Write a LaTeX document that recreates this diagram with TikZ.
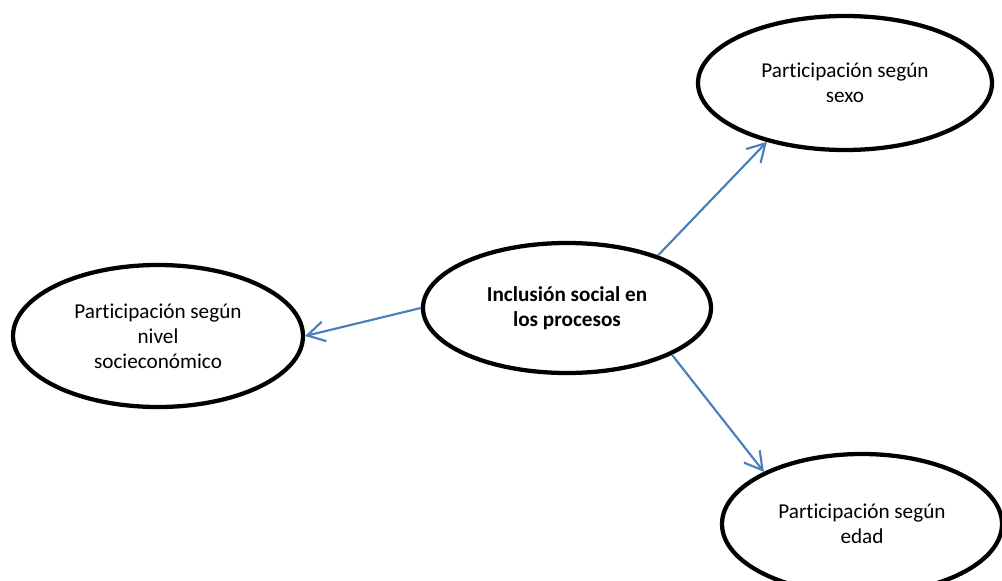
\documentclass[tikz,border=0pt]{standalone}
\usepackage{fontspec}
\setmainfont{Carlito}[Ligatures={NoCommon}]
\usetikzlibrary{shapes.geometric,arrows.meta}
\definecolor{arrowblue}{RGB}{74,126,187}
\begin{document}
\begin{tikzpicture}[x=0.75pt,y=-0.75pt,
  bubble/.style={ellipse,draw=black,line width=3.2pt,inner sep=0pt,align=center,
    font=\fontsize{15.9}{18.75}\selectfont},
  link/.style={draw=arrowblue,line width=1.6pt,
    -{Straight Barb[length=13pt,width=15pt,line width=1.6pt]}}]
\useasboundingbox (0,0) rectangle (1002,581);
\node[bubble,minimum width=0.75*288pt,minimum height=0.75*130pt,font=\fontsize{15.9}{18.75}\selectfont\bfseries] (c) at (567,308) {Inclusión social en\\los procesos};
\node[bubble,minimum width=0.75*294pt,minimum height=0.75*134pt] (tr) at (845,83) {Participación según\\sexo};
\node[bubble,minimum width=0.75*290pt,minimum height=0.75*142pt] (l) at (158,336) {Participación según\\nivel\\socieconómico};
\node[bubble,minimum width=0.75*280pt,minimum height=0.75*140pt] (br) at (862,524) {Participación según\\edad};
\draw[link] (c.30) -- (tr.217);
\draw[link] (c.-24) -- (br.152);
\draw[link] (c.180) -- (l.0);
\end{tikzpicture}
\end{document}
